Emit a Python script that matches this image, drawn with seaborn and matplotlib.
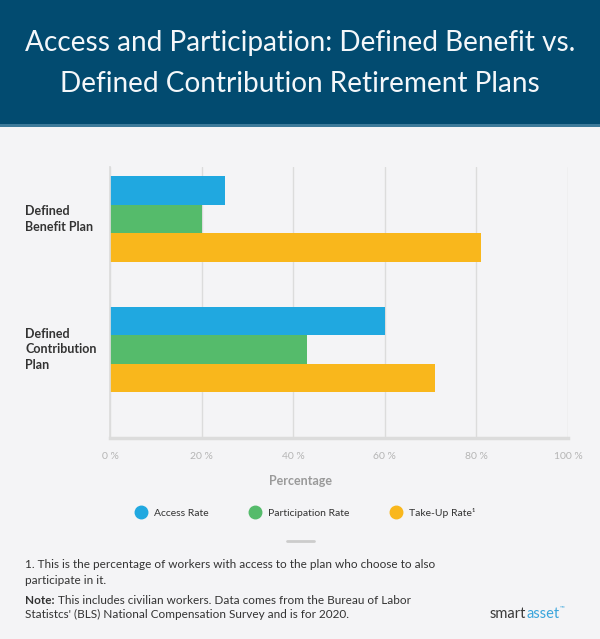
import pandas as pd
import seaborn as sns
import matplotlib.pyplot as plt
from matplotlib.patches import Rectangle
from matplotlib.lines import Line2D

# data
plans = ["Defined\nBenefit Plan", "Defined\nContribution\nPlan"]
measures = ["Access Rate", "Participation Rate", "Take-Up Rate\u00b9"]
access = [25, 60]
participation = [20, 43]
takeup = [81, 71]
xticks = [0, 20, 40, 60, 80, 100]
colors = ["#20a8e0", "#55bb6b", "#f9b71c"]

df = pd.DataFrame({
    "plan": plans * 3,
    "measure": [measures[0]] * 2 + [measures[1]] * 2 + [measures[2]] * 2,
    "value": access + participation + takeup,
})

sns.set_theme(style="white")
plt.rcParams["font.family"] = ["Lato", "DejaVu Sans"]

H = 639
bg = "#f4f4f6"
fig = plt.figure(figsize=(6, 6.39), dpi=100, facecolor=bg)

def fy(py):
    return 1 - py / H

# header band
fig.patches.append(Rectangle((0, fy(124)), 1, 124 / H, transform=fig.transFigure,
                             facecolor="#024b70", edgecolor="none", zorder=0))
fig.patches.append(Rectangle((0, fy(126.5)), 1, 2.5 / H, transform=fig.transFigure,
                             facecolor="#3d7a9a", edgecolor="none", zorder=0))
fig.text(0.5, fy(63.5), "Access and Participation: Defined Benefit vs.\nDefined Contribution Retirement Plans",
         ha="center", va="center", color="#f4f7fa", fontsize=20.2, fontweight="normal", linespacing=1.74)

ax = fig.add_axes([110 / 600, fy(438), 458 / 600, 271 / H])
ax.set_facecolor(bg)
sns.barplot(data=df, y="plan", x="value", hue="measure", palette=colors, orient="h",
            width=0.655, saturation=1, legend=False, ax=ax, linewidth=0)

ax.set_xlim(0, 100)
ax.set_ylim(1.678, -0.398)
ax.set_xticks(xticks)
ax.set_xticklabels([f"{t} %" for t in xticks], color="#b5b5b5", fontsize=7.5)
ax.xaxis.grid(True, color="#dcdcdc", linewidth=1)
ax.set_axisbelow(True)
for s in ["top", "right"]:
    ax.spines[s].set_visible(False)
ax.spines["left"].set_color("#dcdcdc")
ax.spines["bottom"].set_color("#dcdcdc")
ax.spines["bottom"].set_linewidth(2.5)
ax.tick_params(axis="x", length=0, pad=10)
ax.tick_params(axis="y", length=0, pad=61)
for lab in ax.get_yticklabels():
    lab.set_ha("left")
    lab.set_va("center")
    lab.set_fontweight("bold")
    lab.set_fontsize(9)
    lab.set_color("#333333")
    lab.set_linespacing(1.35)
ax.set_xlabel("")
ax.set_ylabel("")

fig.text(0.5, fy(481), "Percentage", ha="center", va="center", color="#9a9a9a",
         fontsize=9, fontweight="bold")

handles = [Line2D([], [], marker="o", linestyle="", markersize=9, markerfacecolor=c,
                  markeredgecolor=c) for c in colors]
fig.legend(handles, measures, loc="center", bbox_to_anchor=(0.505, fy(513)), ncol=3,
           frameon=False, fontsize=7.5, handletextpad=0.3, columnspacing=3.4, labelcolor="#333333")

# separator
fig.add_artist(Line2D([287 / 600, 314 / 600], [fy(541)] * 2, color="#cccccc", linewidth=2))

note_kw = dict(ha="left", va="center", fontsize=8.5, color="#333333")
fig.text(25 / 600, fy(565), "1. This is the percentage of workers with access to the plan who choose to also", **note_kw)
fig.text(25 / 600, fy(580), "participate in it.", **note_kw)
nt = fig.text(25 / 600, fy(600), "Note:", fontweight="bold", **note_kw)
fig.canvas.draw()
nb = nt.get_window_extent()
fig.text(nb.x1 / fig.bbox.width + 3 / 600, fy(600),
         "This includes civilian workers. Data comes from the Bureau of Labor", **note_kw)
fig.text(25 / 600, fy(614), "Statistcs' (BLS) National Compensation Survey and is for 2020.", **note_kw)

# logo
t = fig.text(490 / 600, fy(614), "smart", ha="left", va="center", fontsize=10.5, color="#3a3a3a")
fig.canvas.draw()
bb = t.get_window_extent()
t2 = fig.text(bb.x1 / fig.bbox.width, fy(614), "asset", ha="left", va="center", fontsize=10.5,
              color="#3aa5dc")
fig.canvas.draw()
bb2 = t2.get_window_extent()
fig.text(bb2.x1 / fig.bbox.width, fy(608), "\u2122", ha="left", va="center", fontsize=4.5,
         color="#3aa5dc")

fig.savefig("out.png", dpi=100, facecolor=bg)
